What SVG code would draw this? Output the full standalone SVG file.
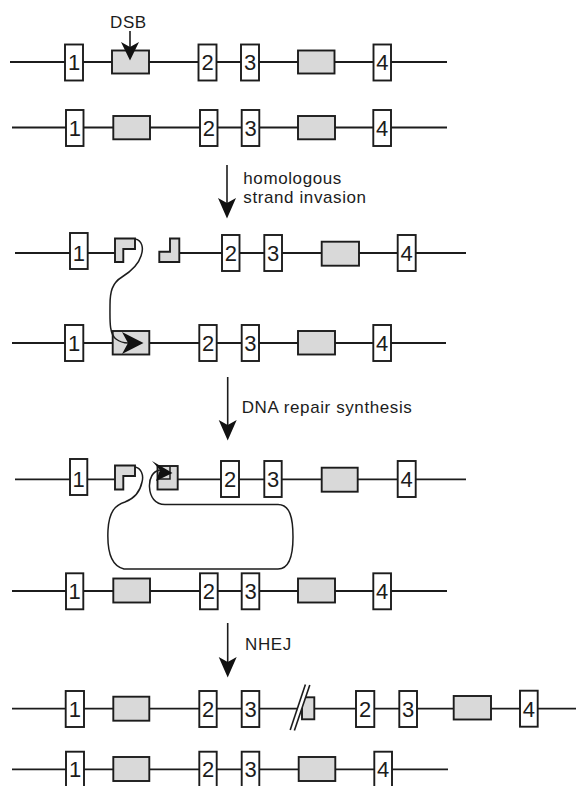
<svg xmlns="http://www.w3.org/2000/svg" width="576" height="786" viewBox="0 0 576 786">
<style>
.bg{fill:#ffffff}
.dna{stroke:#1c1c1c;stroke-width:1.8;fill:none}
.ex{fill:#ffffff;stroke:#1c1c1c;stroke-width:1.9}
.gr{fill:#d9d9d9;stroke:#1c1c1c;stroke-width:1.9}
.num{font-family:"Liberation Sans",Arial,sans-serif;font-size:22px;fill:#1c1c1c;text-anchor:middle}
.lbl{font-family:"Liberation Sans",Arial,sans-serif;font-size:17px;letter-spacing:0.6px;fill:#1c1c1c}
.str{stroke:#1c1c1c;stroke-width:1.5;fill:none}
.ah{fill:#111111}
.arr{stroke:#1c1c1c;stroke-width:1.6;fill:none}
</style>
<rect class="bg" x="0" y="0" width="576" height="786"/>

<!-- Row 1 -->
<g id="row1">
<line class="dna" x1="10" y1="62" x2="447" y2="62"/>
<g id="r1-e1"><rect class="ex" x="65" y="44.5" width="18" height="36"/><text class="num" x="74" y="70">1</text></g>
<g id="r1-g1"><rect class="gr" x="112" y="50.5" width="37" height="23"/></g>
<g id="r1-e2"><rect class="ex" x="198.5" y="44.5" width="18" height="36"/><text class="num" x="207.5" y="70">2</text></g>
<g id="r1-e3"><rect class="ex" x="241" y="44.5" width="18" height="36"/><text class="num" x="250" y="70">3</text></g>
<g id="r1-g2"><rect class="gr" x="298" y="50.5" width="36.5" height="23"/></g>
<g id="r1-e4"><rect class="ex" x="373.5" y="44.5" width="17.5" height="36"/><text class="num" x="382.3" y="70">4</text></g>
</g>

<!-- Row 2 -->
<g id="row2">
<line class="dna" x1="12" y1="127.5" x2="447" y2="127.5"/>
<g id="r2-e1"><rect class="ex" x="66" y="110" width="17.5" height="36"/><text class="num" x="74.8" y="135.5">1</text></g>
<g id="r2-g1"><rect class="gr" x="113.3" y="116" width="36.7" height="23.3"/></g>
<g id="r2-e2"><rect class="ex" x="200" y="110" width="17.5" height="36"/><text class="num" x="208.8" y="135.5">2</text></g>
<g id="r2-e3"><rect class="ex" x="241.7" y="110" width="17.6" height="36"/><text class="num" x="250.5" y="135.5">3</text></g>
<g id="r2-g2"><rect class="gr" x="298" y="116" width="37" height="23.3"/></g>
<g id="r2-e4"><rect class="ex" x="373.3" y="110" width="17.7" height="36"/><text class="num" x="382.2" y="135.5">4</text></g>
</g>

<!-- Row 3 -->
<g id="row3">
<line class="dna" x1="15" y1="253" x2="115" y2="253"/>
<line class="dna" x1="179" y1="253" x2="466" y2="253"/>
<g id="r3-e1"><rect class="ex" x="70" y="233" width="17.7" height="36"/><text class="num" x="78.9" y="261">1</text></g>
<g id="r3-left"><path class="gr" d="M115,238.5 H135 V249 H123.3 V262 H115 Z"/></g>
<g id="r3-right"><path class="gr" d="M170,238.5 H179.3 V262 H159.3 V251.7 H170 Z"/></g>
<g id="r3-e2"><rect class="ex" x="222" y="235" width="17.5" height="36"/><text class="num" x="230.8" y="261">2</text></g>
<g id="r3-e3"><rect class="ex" x="264.3" y="235" width="17.7" height="36"/><text class="num" x="273.2" y="261">3</text></g>
<g id="r3-g2"><rect class="gr" x="321.7" y="241.7" width="37.3" height="24"/></g>
<g id="r3-e4"><rect class="ex" x="397.7" y="235" width="18" height="36"/><text class="num" x="406.7" y="261">4</text></g>
</g>

<!-- Row 4 -->
<g id="row4">
<line class="dna" x1="12" y1="343" x2="446" y2="343"/>
<g id="r4-e1"><rect class="ex" x="65" y="325" width="18.3" height="36"/><text class="num" x="74.2" y="351">1</text></g>
<g id="r4-g1"><rect class="gr" x="112.7" y="331" width="36.6" height="23.5"/></g>
<g id="r4-e2"><rect class="ex" x="199.3" y="325" width="17.4" height="36"/><text class="num" x="208" y="351">2</text></g>
<g id="r4-e3"><rect class="ex" x="241.7" y="325" width="17.3" height="36"/><text class="num" x="250.4" y="351">3</text></g>
<g id="r4-g2"><rect class="gr" x="298" y="331" width="37" height="23.5"/></g>
<g id="r4-e4"><rect class="ex" x="373.3" y="325" width="17.7" height="36"/><text class="num" x="382.2" y="351">4</text></g>
</g>

<!-- Row 5 -->
<g id="row5">
<line class="dna" x1="15" y1="479.3" x2="115" y2="479.3"/>
<line class="dna" x1="177.7" y1="479.3" x2="466" y2="479.3"/>
<g id="r5-e1"><rect class="ex" x="70" y="459" width="17.3" height="36"/><text class="num" x="78.7" y="487.3">1</text></g>
<g id="r5-left"><path class="gr" d="M115,465.5 H135 V476 H123.3 V489.5 H115 Z"/></g>
<g id="r5-right"><rect class="gr" x="157.5" y="466" width="20.2" height="23.5"/><path class="str" d="M170,466 V479 H157.5"/></g>
<g id="r5-e2"><rect class="ex" x="221" y="461" width="18" height="36"/><text class="num" x="230" y="487.3">2</text></g>
<g id="r5-e3"><rect class="ex" x="264.3" y="461" width="17.4" height="36"/><text class="num" x="273" y="487.3">3</text></g>
<g id="r5-g2"><rect class="gr" x="321.7" y="467.7" width="36" height="24"/></g>
<g id="r5-e4"><rect class="ex" x="397.7" y="461" width="18" height="36"/><text class="num" x="406.7" y="487.3">4</text></g>
</g>

<!-- Row 6 -->
<g id="row6">
<line class="dna" x1="12" y1="591" x2="447" y2="591"/>
<g id="r6-e1"><rect class="ex" x="66" y="573.3" width="17.3" height="36"/><text class="num" x="74.7" y="599">1</text></g>
<g id="r6-g1"><rect class="gr" x="113.3" y="578.5" width="36.7" height="24"/></g>
<g id="r6-e2"><rect class="ex" x="200" y="573.3" width="17.7" height="36"/><text class="num" x="208.8" y="599">2</text></g>
<g id="r6-e3"><rect class="ex" x="241.7" y="573.3" width="17.6" height="36"/><text class="num" x="250.5" y="599">3</text></g>
<g id="r6-g2"><rect class="gr" x="298" y="578.5" width="37" height="24"/></g>
<g id="r6-e4"><rect class="ex" x="373.3" y="573.3" width="17.7" height="36"/><text class="num" x="382.2" y="599">4</text></g>
</g>

<!-- Row 7 -->
<g id="row7">
<line class="dna" x1="12" y1="708.7" x2="576" y2="708.7"/>
<g id="r7-e1"><rect class="ex" x="65.7" y="691" width="18.3" height="36"/><text class="num" x="74.8" y="716.7">1</text></g>
<g id="r7-g1"><rect class="gr" x="113.3" y="696.7" width="36" height="24"/></g>
<g id="r7-e2"><rect class="ex" x="199.3" y="691" width="17.4" height="36"/><text class="num" x="208" y="716.7">2</text></g>
<g id="r7-e3"><rect class="ex" x="241.7" y="691" width="17.6" height="36"/><text class="num" x="250.5" y="716.7">3</text></g>
<g id="r7-frag"><rect class="gr" x="302" y="697.3" width="12.3" height="22"/></g>
<g id="r7-break">
<path d="M290.2,730 L305.4,684.5 L309.8,685 L294.4,730.5 Z" fill="#ffffff"/>
<line class="arr" x1="290.2" y1="730" x2="305.4" y2="684.5"/>
<line class="arr" x1="294.4" y1="730.5" x2="309.8" y2="685"/>
</g>
<g id="r7-e2b"><rect class="ex" x="356" y="691" width="18.3" height="36"/><text class="num" x="365.2" y="716.7">2</text></g>
<g id="r7-e3b"><rect class="ex" x="399.3" y="691" width="17.7" height="36"/><text class="num" x="408.2" y="716.7">3</text></g>
<g id="r7-g2"><rect class="gr" x="453.7" y="696" width="37.3" height="23.5"/></g>
<g id="r7-e4"><rect class="ex" x="520" y="690.7" width="17.7" height="36"/><text class="num" x="528.9" y="716.7">4</text></g>
</g>

<!-- Row 8 -->
<g id="row8">
<line class="dna" x1="12" y1="769.3" x2="448" y2="769.3"/>
<g id="r8-e1"><rect class="ex" x="66" y="751.7" width="18" height="36"/><text class="num" x="75" y="777.3">1</text></g>
<g id="r8-g1"><rect class="gr" x="113.3" y="757" width="36" height="24"/></g>
<g id="r8-e2"><rect class="ex" x="199.3" y="751.7" width="17.4" height="36"/><text class="num" x="208" y="777.3">2</text></g>
<g id="r8-e3"><rect class="ex" x="241.7" y="751.7" width="17.6" height="36"/><text class="num" x="250.5" y="777.3">3</text></g>
<g id="r8-g2"><rect class="gr" x="298.7" y="757" width="36.6" height="24"/></g>
<g id="r8-e4"><rect class="ex" x="374.3" y="751.7" width="17.7" height="36"/><text class="num" x="383.2" y="777.3">4</text></g>
</g>

<!-- Connectors -->
<g id="connectors">
<line class="arr" x1="130" y1="31" x2="130" y2="48"/>
<path class="ah" d="M130,60.5 L121,42 L130,47 L139,42 Z"/>
<line class="arr" x1="227" y1="165" x2="227" y2="203"/>
<path class="ah" d="M227,218.5 L218,198 L227,203 L236,198 Z"/>
<line class="arr" x1="227.7" y1="377" x2="227.7" y2="425"/>
<path class="ah" d="M227.7,440.5 L218.7,420 L227.7,425 L236.7,420 Z"/>
<line class="arr" x1="227.7" y1="623" x2="227.7" y2="662"/>
<path class="ah" d="M227.7,677.5 L218.7,657 L227.7,662 L236.7,657 Z"/>
<path class="str" d="M135,239 C142,240 144,248 141,256 C138,266 130,272 122,277 C112,283 110,292 110,305 C110,320 109,334 116,339 C120,342 124,343 128,343"/>
<path class="ah" d="M143.5,343 L122,332 L128,343 L122,354 Z"/>
<path class="str" d="M135,467 C141,468 144,475 142,482 C140,492 133,499 125,502 C115,505 109,512 108,530 C107,550 110,566 124,569 L278,569 C290,569 293,555 293,537 C293,518 290,504.5 278,504.5 L165,504.5 C155,504.5 150,497 149.5,487 C149,478 153,471 160,470"/>
<path class="ah" d="M172.5,473 L152,461 L160,470 L156,481 Z"/>
</g>

<!-- Labels -->
<g id="labels">
<text class="lbl" x="110" y="27.5">DSB</text>
<text class="lbl" x="243.3" y="183.5">homologous</text>
<text class="lbl" x="243.3" y="203">strand invasion</text>
<text class="lbl" x="241.7" y="413.3">DNA repair synthesis</text>
<text class="lbl" x="245" y="650">NHEJ</text>
</g>
</svg>
